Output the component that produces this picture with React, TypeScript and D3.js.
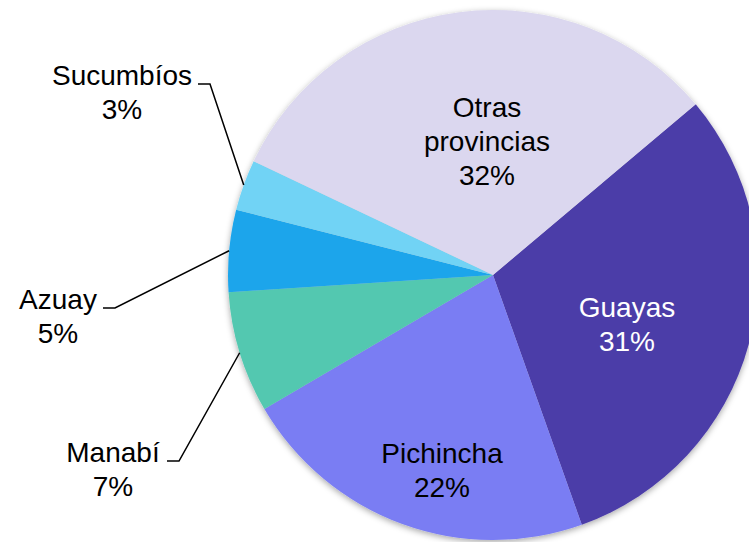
import React from 'react';
import * as d3 from 'd3';

const W = 749;
const H = 542;

// slices, clockwise from the Guayas slice
const provinces = ['Guayas', 'Pichincha', 'Manabí', 'Azuay', 'Sucumbíos', 'Otras provincias'];
const shares = [30.7, 22.0, 7.4, 5.0, 3.1, 31.8];
const colors = ['#4c3da8', '#7a7df3', '#52c8b0', '#1da5eb', '#71d3f5', '#dbd7ef'];

// label placement (text centre x, first baseline y) and whether a leader line is used
const labelX = [627, 442, 113, 58, 122, 487];
const labelY = [317, 463, 462, 309, 85, 117];
const labelFill = ['#fff', '#000', '#000', '#000', '#000', '#000'];
// leader lines: start of the short horizontal tick (x), side it sits on
const leaderX = [null, null, 167, 103, 198, null];

const cx = 493;
const cy = 275;
const radius = 265;
const startAngle = (49.9 / 180) * Math.PI;
const lineH = 34;

const App = () => {
  const pie = d3.pie<number>()
    .sort(null)
    .value((d) => d)
    .startAngle(startAngle)
    .endAngle(startAngle + Math.PI * 2);
  const arcs = pie(shares);
  const arc = d3.arc<d3.PieArcDatum<number>>().innerRadius(0).outerRadius(radius);
  const total = d3.sum(shares);

  return (
    <div style={{ position: 'absolute', left: 0, top: 0 }}>
      <svg width={W} height={H} style={{ display: 'block' }}>
        <defs>
          <filter id="shadow" x="-10%" y="-10%" width="120%" height="120%">
            <feDropShadow dx="0" dy="2" stdDeviation="3" floodColor="#000" floodOpacity="0.35" />
          </filter>
        </defs>
        <rect width={W} height={H} fill="#fff" />
        <g transform={`translate(${cx},${cy})`} filter="url(#shadow)">
          {arcs.map((a, i) => (
            <path key={provinces[i]} d={arc(a) || ''} fill={colors[i]} />
          ))}
        </g>
        <g fontFamily="'Liberation Sans', Arial, sans-serif" fontSize="28px" textAnchor="middle">
          {arcs.map((a, i) => {
            const pct = Math.round((shares[i] / total) * 100) + '%';
            const words = provinces[i] === 'Otras provincias' ? ['Otras', 'provincias'] : [provinces[i]];
            const lines = [...words, pct];
            const lx = leaderX[i];
            let leader = null;
            if (lx !== null) {
              const mid = (a.startAngle + a.endAngle) / 2;
              const ex = cx + radius * Math.sin(mid);
              const ey = cy - radius * Math.cos(mid);
              const ly = labelY[i] - 1;
              leader = (
                <polyline
                  points={`${lx},${ly} ${lx + 12},${ly} ${ex},${ey}`}
                  fill="none"
                  stroke="#000"
                  strokeWidth={1.5}
                />
              );
            }
            return (
              <g key={provinces[i]}>
                {leader}
                {lines.map((t, j) => (
                  <text key={j} x={labelX[i]} y={labelY[i] + j * lineH} fill={labelFill[i]}>
                    {t}
                  </text>
                ))}
              </g>
            );
          })}
        </g>
      </svg>
    </div>
  );
};

export default App;
